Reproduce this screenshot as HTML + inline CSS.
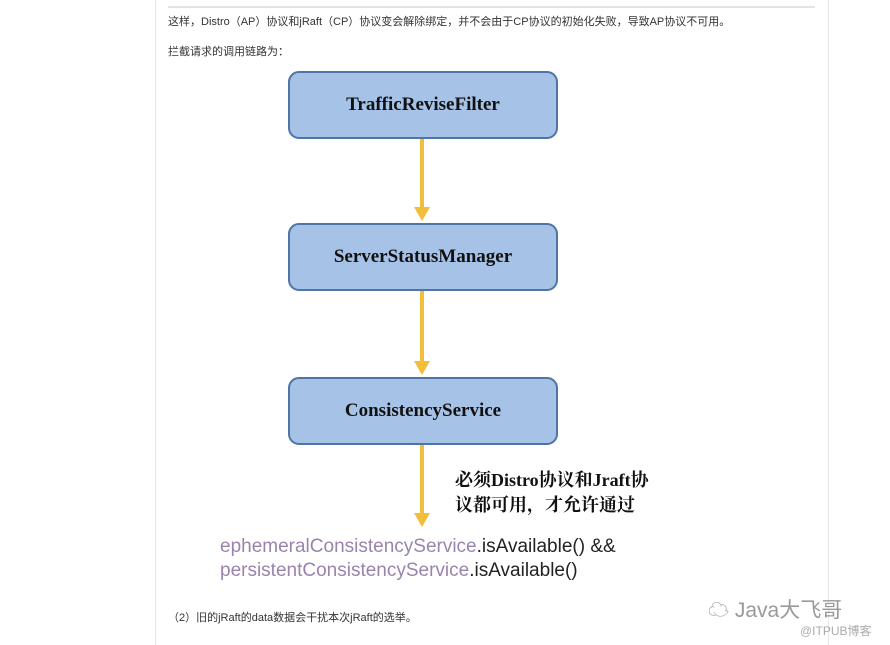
<!DOCTYPE html>
<html><head><meta charset="utf-8"><style>
body{margin:0;width:890px;height:645px;background:#fff;position:relative;overflow:hidden;font-family:"Liberation Sans","Noto Sans CJK SC",sans-serif}
.a{position:absolute}
.box{position:absolute;left:288px;width:266px;height:64px;background:#a6c2e6;border:2px solid #4f74a6;border-radius:11px;display:flex;align-items:center;justify-content:center;font-family:"Liberation Serif","Noto Serif CJK SC",serif;font-weight:bold;font-size:19px;color:#111}
.sm{font-size:11px;color:#333}
.ar{position:absolute;left:420px;width:4px;background:#f2bd3a}
.hd{position:absolute;left:414px;width:0;height:0;border-left:8px solid transparent;border-right:8px solid transparent;border-top:14px solid #f2bd3a}
</style></head><body>
<div class="a" style="left:155px;top:0;width:1px;height:645px;background:#e6e6e6"></div>
<div class="a" style="left:828px;top:0;width:1px;height:645px;background:#e6e6e6"></div>
<div class="a" style="left:168px;top:6px;width:647px;height:2px;background:#e3e3e3"></div>
<div class="a sm" style="left:168px;top:13px">这样，Distro（AP）协议和jRaft（CP）协议变会解除绑定，并不会由于CP协议的初始化失败，导致AP协议不可用。</div>
<div class="a sm" style="left:168px;top:43px">拦截请求的调用链路为：</div>
<div class="box" style="top:71px">TrafficReviseFilter</div>
<div class="box" style="top:223px">ServerStatusManager</div>
<div class="box" style="top:377px">ConsistencyService</div>
<div class="ar" style="top:139px;height:70px"></div><div class="hd" style="top:207px"></div>
<div class="ar" style="top:291px;height:72px"></div><div class="hd" style="top:361px"></div>
<div class="ar" style="top:445px;height:70px"></div><div class="hd" style="top:513px"></div>
<div class="a" style="left:455px;top:468px;font-family:'Liberation Serif','Noto Serif CJK SC',serif;font-weight:bold;font-size:18px;line-height:25px;color:#111">必须Distro协议和Jraft协<br>议都可用，才允许通过</div>
<div class="a" style="left:220px;top:535px;font-size:19px;line-height:24px;color:#222"><span style="color:#9a84ad">ephemeralConsistencyService</span>.isAvailable() &amp;&amp;<br><span style="color:#9a84ad">persistentConsistencyService</span>.isAvailable()</div>
<div class="a sm" style="left:168px;top:609px">（2）旧的jRaft的data数据会干扰本次jRaft的选举。</div>
<div class="a" style="left:708px;top:594px;font-size:21px;color:#999">☁ Java大飞哥</div>
<div class="a" style="left:800px;top:622px;font-size:12px;color:#aaa">@ITPUB博客</div>
</body></html>
